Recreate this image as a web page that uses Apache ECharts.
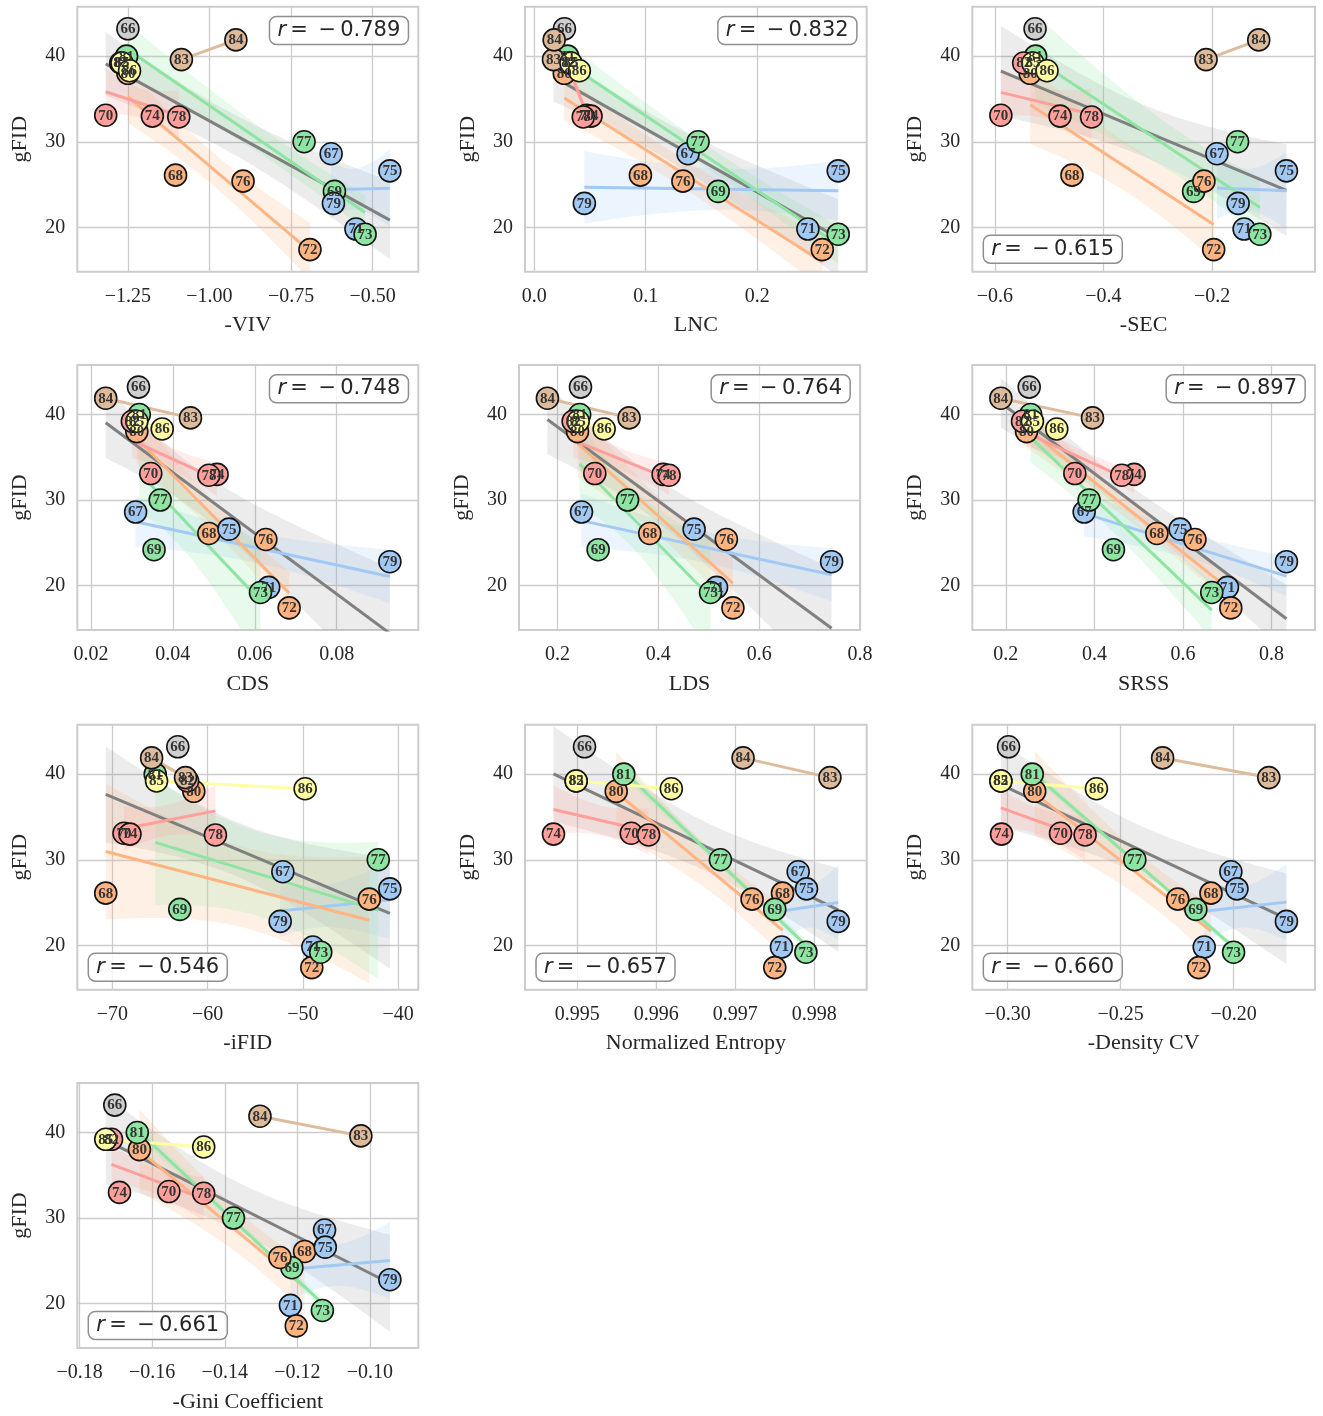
<!DOCTYPE html>
<html>
<head>
<meta charset="utf-8">
<title>gFID vs. diversity metrics</title>
<script src="https://cdn.jsdelivr.net/npm/echarts@6/dist/echarts.min.js"></script>
<style>
  html, body { margin: 0; padding: 0; background: #ffffff; }
  #chart { width: 1323px; height: 1416px; }
</style>
</head>
<body>
<div id="chart"></div>
<script>
// ---------------------------------------------------------------------------
// Data: one entry per model checkpoint (66 ... 86)
// ---------------------------------------------------------------------------
const models = [66, 67, 68, 69, 70, 71, 72, 73, 74, 75, 76, 77, 78, 79, 80, 81, 82, 83, 84, 85, 86];

// family each model belongs to (index into familyColors)
const family = [0, 1, 2, 3, 4, 1, 2, 3, 4, 1, 2, 3, 4, 1, 2, 3, 4, 5, 5, 6, 6];

const gFID = [43.2, 28.6, 26.1, 24.2, 33.1, 19.8, 17.4, 19.2, 33.0, 26.6, 25.4,
              30.0, 32.9, 22.8, 38.0, 40.0, 39.2, 39.6, 41.9, 39.2, 38.3];

const negVIV = [-1.250, -0.627, -1.104, -0.617, -1.318, -0.551, -0.692, -0.523, -1.175, -0.447, -0.897,
                -0.710, -1.094, -0.620, -1.250, -1.254, -1.272, -1.086, -0.919, -1.268, -1.245];

const LNC = [0.0271, 0.138, 0.0953, 0.165, 0.047, 0.2455, 0.2584, 0.2727, 0.051, 0.2727, 0.1334,
             0.147, 0.044, 0.045, 0.027, 0.030, 0.031, 0.0173, 0.0179, 0.033, 0.0405];

const negSEC = [-0.526, -0.191, -0.458, -0.234, -0.589, -0.141, -0.197, -0.112, -0.480, -0.063, -0.215,
                -0.153, -0.422, -0.152, -0.535, -0.525, -0.547, -0.211, -0.114, -0.530, -0.504];

const CDS = [0.0316, 0.0309, 0.0488, 0.0354, 0.0346, 0.0634, 0.0684, 0.0614, 0.0508, 0.0537, 0.0627,
             0.0369, 0.0488, 0.0930, 0.0312, 0.0318, 0.0301, 0.0443, 0.0236, 0.0312, 0.0374];

const LDS = [0.2456, 0.2476, 0.383, 0.2806, 0.274, 0.5155, 0.548, 0.5036, 0.4095, 0.471, 0.535,
             0.339, 0.4214, 0.7437, 0.2397, 0.244, 0.231, 0.342, 0.180, 0.241, 0.2925];

const SRSS = [0.2527, 0.3768, 0.541, 0.443, 0.3558, 0.7004, 0.708, 0.665, 0.4897, 0.5935, 0.627,
              0.388, 0.4618, 0.8337, 0.2467, 0.256, 0.2376, 0.3957, 0.1887, 0.260, 0.315];

const negIFID = [-63.13, -52.1, -70.7, -62.92, -68.78, -48.95, -49.06, -48.12, -68.15, -40.86, -43.02,
                 -42.08, -59.18, -52.38, -61.45, -65.5, -62.1, -62.32, -65.88, -65.36, -49.76];

const normEntropy = [0.995093, 0.997796, 0.997598, 0.997500, 0.995684, 0.997585, 0.997500, 0.997894,
                     0.994700, 0.997902, 0.997213, 0.996812, 0.995904, 0.998303, 0.995494, 0.995590,
                     0.994987, 0.998198, 0.997099, 0.994987, 0.996191];

const negDensityCV = [-0.2996, -0.2012, -0.2100, -0.2167, -0.2766, -0.2130, -0.2154, -0.2000, -0.3027,
                      -0.1985, -0.2247, -0.2437, -0.2657, -0.1766, -0.2880, -0.2891, -0.3030, -0.1844,
                      -0.2314, -0.3030, -0.2607];

const negGini = [-0.1703, -0.1125, -0.1180, -0.1215, -0.1554, -0.1219, -0.1203, -0.1131, -0.1690,
                 -0.1123, -0.1248, -0.1376, -0.1458, -0.0945, -0.1635, -0.1641, -0.1712, -0.1025,
                 -0.1303, -0.1728, -0.1458];

// Pearson r printed in each panel
const pearsonR = [-0.789, -0.832, -0.615, -0.748, -0.764, -0.897, -0.546, -0.657, -0.660, -0.661];

const metricNames = ['-VIV', 'LNC', '-SEC', 'CDS', 'LDS', 'SRSS', '-iFID',
                     'Normalized Entropy', '-Density CV', '-Gini Coefficient'];

const metricValues = [negVIV, LNC, negSEC, CDS, LDS, SRSS, negIFID, normEntropy, negDensityCV, negGini];

// x-axis tick values and their decimals
const xTicks = [
  [-1.25, -1.00, -0.75, -0.50],
  [0.0, 0.1, 0.2],
  [-0.6, -0.4, -0.2],
  [0.02, 0.04, 0.06, 0.08],
  [0.2, 0.4, 0.6, 0.8],
  [0.2, 0.4, 0.6, 0.8],
  [-70, -60, -50, -40],
  [0.995, 0.996, 0.997, 0.998],
  [-0.30, -0.25, -0.20],
  [-0.18, -0.16, -0.14, -0.12, -0.10]
];
const xTickDecimals = [2, 1, 1, 2, 1, 1, 0, 3, 2, 2];
const yTicks = [20, 30, 40];

// ---------------------------------------------------------------------------
// Styling & layout
// ---------------------------------------------------------------------------
const familyColors = ['#cfcfcf', '#a1c9f4', '#ffb482', '#8de5a1', '#ff9f9b', '#debb9b', '#fffea3'];
const OVERALL_COLOR = '#808080';
const SERIF = "'Liberation Serif', 'Times New Roman', Times, serif";
const SANS = "'DejaVu Sans', Verdana, sans-serif";
const INK = '#262626';
const RULE = '#cccccc';
const W = 1323, H = 1416;

const colLeft = [77.3, 525, 972.3];
const colWidth = [341, 341.7, 342.7];
const rowTop = [6.7, 365, 724.7, 1083];
const PANEL_H = 265;
// r-box corner for each panel: 'ur' upper right, 'll' lower left
const rCorner = ['ur', 'ur', 'll', 'ur', 'ur', 'ur', 'll', 'll', 'll', 'll'];

function panelBox(i) {
  const r = Math.floor(i / 3), c = i % 3;
  const box = { left: colLeft[c], top: rowTop[r], width: colWidth[c], height: PANEL_H };
  if (i === 4) { box.left = 519; box.width = 341; }
  return box;
}

function fmtTick(v, d) {
  const s = Math.abs(v).toFixed(d);
  return (v < -1e-12 ? '\u2212' : '') + s;
}

function rgba(hex, a) {
  const n = parseInt(hex.slice(1), 16);
  return 'rgba(' + (n >> 16 & 255) + ',' + (n >> 8 & 255) + ',' + (n & 255) + ',' + a + ')';
}

function padRange(arr, frac) {
  let lo = Infinity, hi = -Infinity;
  arr.forEach(v => { lo = Math.min(lo, v); hi = Math.max(hi, v); });
  const pad = (hi - lo) * frac;
  return [lo - pad, hi + pad];
}

// ---------------------------------------------------------------------------
// Regression helpers
// ---------------------------------------------------------------------------
function fitLine(xs, ys) {
  const n = xs.length;
  let mx = 0, my = 0;
  for (let k = 0; k < n; k++) { mx += xs[k]; my += ys[k]; }
  mx /= n; my /= n;
  let sxx = 0, sxy = 0;
  for (let k = 0; k < n; k++) { sxx += (xs[k] - mx) ** 2; sxy += (xs[k] - mx) * (ys[k] - my); }
  const b1 = sxx > 0 ? sxy / sxx : 0;
  return [my - b1 * mx, b1];
}

function linspace(a, b, n) {
  const out = [];
  for (let k = 0; k < n; k++) out.push(a + (b - a) * k / (n - 1));
  return out;
}

// confidence band of the mean response: yhat +/- mult * se(yhat)
function meanBand(xs, ys, grid, mult) {
  const n = xs.length;
  const [b0, b1] = fitLine(xs, ys);
  let mx = 0; xs.forEach(v => mx += v); mx /= n;
  let sxx = 0, sse = 0;
  for (let k = 0; k < n; k++) { sxx += (xs[k] - mx) ** 2; sse += (ys[k] - b0 - b1 * xs[k]) ** 2; }
  const s = Math.sqrt(sse / (n - 2));
  return grid.map(x => {
    const yh = b0 + b1 * x;
    const h = mult * s * Math.sqrt(1 / n + (x - mx) ** 2 / sxx);
    return [yh - h, yh + h];
  });
}

const T_ALL = 2.093;   // t(0.975, 19) for the 21-model fit
const K_FAMILY = 1.0;  // one standard error for the 4-model family fits

function bandPolygon(grid, band) {
  const up = grid.map((x, g) => [x, band[g][1]]);
  const dn = grid.map((x, g) => [x, band[g][0]]).reverse();
  return up.concat(dn);
}

// ---------------------------------------------------------------------------
// Series builders
// ---------------------------------------------------------------------------
function bandSeries(i, poly, fill) {
  return {
    type: 'custom', xAxisIndex: i, yAxisIndex: i, z: 1, silent: true, clip: true,
    data: [poly[0]],
    renderItem(params, api) {
      const cs = params.coordSys;
      return {
        type: 'group',
        clipPath: { type: 'rect', shape: { x: cs.x, y: cs.y, width: cs.width, height: cs.height } },
        children: [{ type: 'polygon', shape: { points: poly.map(p => api.coord(p)) }, style: { fill: fill } }]
      };
    }
  };
}

function lineSeries(i, pts, color, z) {
  return {
    type: 'line', xAxisIndex: i, yAxisIndex: i, z: z, silent: true,
    data: pts, symbol: 'none', showSymbol: false,
    lineStyle: { color: color, width: 3 }
  };
}

const yRange = padRange(gFID, 0.1);
const grids = [], xAxes = [], yAxes = [], series = [], titles = [];

metricValues.forEach((xs, i) => {
  const box = panelBox(i);
  grids.push({ left: box.left, top: box.top, width: box.width, height: box.height,
               show: true, borderColor: RULE, borderWidth: 2, backgroundColor: 'transparent',
               containLabel: false, outerBoundsMode: 'none' });

  const xr = padRange(xs, 0.1);
  xAxes.push({
    type: 'value', gridIndex: i, min: xr[0], max: xr[1],
    name: metricNames[i], nameLocation: 'middle', nameGap: 43,
    nameTextStyle: { fontFamily: SERIF, fontSize: 22, color: INK, lineHeight: 22 },
    axisLine: { show: false },
    axisTick: { show: false, customValues: xTicks[i] },
    axisLabel: { customValues: xTicks[i], formatter: v => fmtTick(v, xTickDecimals[i]),
                 margin: 15, fontFamily: SERIF, fontSize: 20, color: INK, lineHeight: 20 },
    splitLine: { show: true, lineStyle: { color: RULE, width: 1.3 } }
  });
  yAxes.push({
    type: 'value', gridIndex: i, min: yRange[0], max: yRange[1],
    name: 'gFID', nameLocation: 'middle', nameGap: 46, nameRotate: 90,
    nameTextStyle: { fontFamily: SERIF, fontSize: 22, color: INK, lineHeight: 22 },
    axisLine: { show: false },
    axisTick: { show: false, customValues: yTicks },
    axisLabel: { customValues: yTicks, formatter: v => String(v),
                 margin: 12, fontFamily: SERIF, fontSize: 20, color: INK, lineHeight: 20 },
    splitLine: { show: true, lineStyle: { color: RULE, width: 1.3 } }
  });

  // overall fit across every model
  const allRange = [Math.min(...xs), Math.max(...xs)];
  const allGrid = linspace(allRange[0], allRange[1], 60);
  series.push(bandSeries(i, bandPolygon(allGrid, meanBand(xs, gFID, allGrid, T_ALL)), rgba(OVERALL_COLOR, 0.15)));
  const [a0, a1] = fitLine(xs, gFID);

  // per-family fits
  const famLines = [];
  for (let f = 1; f < familyColors.length; f++) {
    const fx = [], fy = [];
    xs.forEach((v, k) => { if (family[k] === f) { fx.push(v); fy.push(gFID[k]); } });
    if (fx.length < 2) continue;
    const lo = Math.min(...fx), hi = Math.max(...fx);
    const [b0, b1] = fitLine(fx, fy);
    if (fx.length > 2) {
      const g = linspace(lo, hi, 60);
      series.push(bandSeries(i, bandPolygon(g, meanBand(fx, fy, g, K_FAMILY)), rgba(familyColors[f], 0.2)));
    }
    famLines.push(lineSeries(i, [[lo, b0 + b1 * lo], [hi, b0 + b1 * hi]], familyColors[f], 3));
  }
  series.push(lineSeries(i, [[allRange[0], a0 + a1 * allRange[0]], [allRange[1], a0 + a1 * allRange[1]]], OVERALL_COLOR, 2));
  famLines.forEach(s => series.push(s));

  // model markers
  series.push({
    type: 'scatter', xAxisIndex: i, yAxisIndex: i, z: 4, silent: true,
    symbol: 'circle', symbolSize: 22,
    data: xs.map((v, k) => ({ value: [v, gFID[k]], itemStyle: { color: familyColors[family[k]] } })),
    itemStyle: { borderColor: '#141414', borderWidth: 1.6, opacity: 1 }
  });
  // model numbers, drawn above every marker
  series.push({
    type: 'custom', xAxisIndex: i, yAxisIndex: i, z: 5, silent: true,
    data: xs.map((v, k) => [v, gFID[k], models[k]]),
    renderItem(params, api) {
      const p = api.coord([api.value(0), api.value(1)]);
      return {
        type: 'text', x: p[0], y: p[1] + 0.5,
        style: { text: String(api.value(2)), fill: '#333333', fontFamily: SERIF, fontWeight: 'bold',
                 fontSize: 15, align: 'center', verticalAlign: 'middle' }
      };
    }
  });

  // Pearson r box
  const r = pearsonR[i];
  const t = {
    text: '{i|r}{n|\u2009=\u2002' + (r < 0 ? '\u2212\u2009' : '') + Math.abs(r).toFixed(3) + '}',
    textStyle: {
      fontWeight: 'normal',
      rich: {
        i: { fontFamily: SANS, fontStyle: 'italic', fontWeight: 'normal', fontSize: 21, color: INK, lineHeight: 26 },
        n: { fontFamily: SANS, fontWeight: 'normal', fontSize: 21, color: INK, lineHeight: 26 }
      }
    },
    backgroundColor: 'rgba(255,255,255,0.8)', borderColor: '#8f8f8f', borderWidth: 1.5,
    borderRadius: 7, padding: [3.5, 8, 3.5, 8], z: 10
  };
  if (rCorner[i] === 'ur') {
    t.right = W - (box.left + box.width - 10);
    t.top = box.top + 7.3;
  } else {
    t.left = box.left + 11;
    t.top = box.top + box.height - 6 - 33;
  }
  titles.push(t);
});

const chart = echarts.init(document.getElementById('chart'), null, { renderer: 'canvas', width: W, height: H });
chart.setOption({
  backgroundColor: '#ffffff',
  animation: false,
  title: titles,
  grid: grids,
  xAxis: xAxes,
  yAxis: yAxes,
  series: series
});
</script>
</body>
</html>
